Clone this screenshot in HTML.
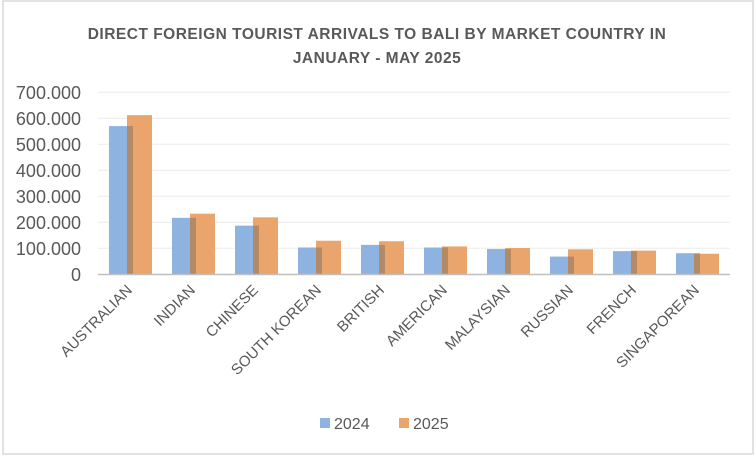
<!DOCTYPE html>
<html><head><meta charset="utf-8"><style>
body{margin:0;background:#fff}
svg text{font-family:"Liberation Sans",sans-serif;fill:#595959}
</style></head><body>
<svg width="756" height="461" xmlns="http://www.w3.org/2000/svg">
<rect x="3" y="1" width="750" height="453" fill="#fff" stroke="#d9d9d9" stroke-width="1.5"/>
<text x="377" y="39" text-anchor="middle" font-size="15.5" font-weight="bold" letter-spacing="0.5">DIRECT FOREIGN TOURIST ARRIVALS TO BALI BY MARKET COUNTRY IN</text>
<text x="377" y="63" text-anchor="middle" font-size="15.5" font-weight="bold" letter-spacing="0.5">JANUARY - MAY 2025</text>
<g stroke="#ececec" stroke-width="1">
<line x1="98" x2="730" y1="92.3" y2="92.3"/><line x1="98" x2="730" y1="118.3" y2="118.3"/>
<line x1="98" x2="730" y1="144.3" y2="144.3"/><line x1="98" x2="730" y1="170.3" y2="170.3"/>
<line x1="98" x2="730" y1="196.3" y2="196.3"/><line x1="98" x2="730" y1="222.3" y2="222.3"/>
<line x1="98" x2="730" y1="248.3" y2="248.3"/>
</g>
<g font-size="18" text-anchor="end">
<text x="81" y="99">700.000</text><text x="81" y="125">600.000</text><text x="81" y="151">500.000</text>
<text x="81" y="177">400.000</text><text x="81" y="203">300.000</text><text x="81" y="229">200.000</text>
<text x="81" y="255">100.000</text><text x="81" y="281">0</text>
</g>
<g fill="#8fb3e0">
<rect x="109" y="126.06" width="24" height="147.94"/>
<rect x="172" y="217.84" width="24" height="56.16"/>
<rect x="235" y="225.64" width="24" height="48.36"/>
<rect x="298" y="247.48" width="24" height="26.52"/>
<rect x="361" y="244.88" width="24" height="29.12"/>
<rect x="424" y="247.48" width="24" height="26.52"/>
<rect x="487" y="249.04" width="24" height="24.96"/>
<rect x="550" y="256.58" width="24" height="17.42"/>
<rect x="613" y="251.12" width="24" height="22.88"/>
<rect x="676" y="253.2" width="24" height="20.8"/>
</g>
<g fill="#e9a56b">
<rect x="127" y="115.14" width="25" height="158.86"/>
<rect x="190" y="213.68" width="25" height="60.32"/>
<rect x="253" y="217.32" width="25" height="56.68"/>
<rect x="316" y="240.72" width="25" height="33.28"/>
<rect x="379" y="241.24" width="25" height="32.76"/>
<rect x="442" y="246.44" width="25" height="27.56"/>
<rect x="505" y="248" width="25" height="26"/>
<rect x="568" y="249.3" width="25" height="24.7"/>
<rect x="631" y="250.6" width="25" height="23.4"/>
<rect x="694" y="253.72" width="25" height="20.28"/>
</g>
<g fill="#b38a66">
<rect x="127" y="126.06" width="6" height="147.94"/>
<rect x="190" y="217.84" width="6" height="56.16"/>
<rect x="253" y="225.64" width="6" height="48.36"/>
<rect x="316" y="247.48" width="6" height="26.52"/>
<rect x="379" y="244.88" width="6" height="29.12"/>
<rect x="442" y="247.48" width="6" height="26.52"/>
<rect x="505" y="249.04" width="6" height="24.96"/>
<rect x="568" y="256.58" width="6" height="17.42"/>
<rect x="631" y="251.12" width="6" height="22.88"/>
<rect x="694" y="253.72" width="6" height="20.28"/>
</g>
<line x1="98" x2="730" y1="274.5" y2="274.5" stroke="#bfbfbf" stroke-width="1.5"/>
<g font-size="15" text-anchor="end">
<text x="133" y="291" transform="rotate(-45 133 291)">AUSTRALIAN</text>
<text x="196" y="291" transform="rotate(-45 196 291)">INDIAN</text>
<text x="259" y="291" transform="rotate(-45 259 291)">CHINESE</text>
<text x="322" y="291" transform="rotate(-45 322 291)">SOUTH KOREAN</text>
<text x="385" y="291" transform="rotate(-45 385 291)">BRITISH</text>
<text x="448" y="291" transform="rotate(-45 448 291)">AMERICAN</text>
<text x="511" y="291" transform="rotate(-45 511 291)">MALAYSIAN</text>
<text x="574" y="291" transform="rotate(-45 574 291)">RUSSIAN</text>
<text x="637" y="291" transform="rotate(-45 637 291)">FRENCH</text>
<text x="700" y="291" transform="rotate(-45 700 291)">SINGAPOREAN</text>
</g>
<rect x="320" y="418" width="10" height="10" fill="#8fb3e0"/><text x="334" y="429" font-size="16">2024</text>
<rect x="399" y="418" width="10" height="10" fill="#e9a56b"/><text x="413" y="429" font-size="16">2025</text>
</svg>
</body></html>
